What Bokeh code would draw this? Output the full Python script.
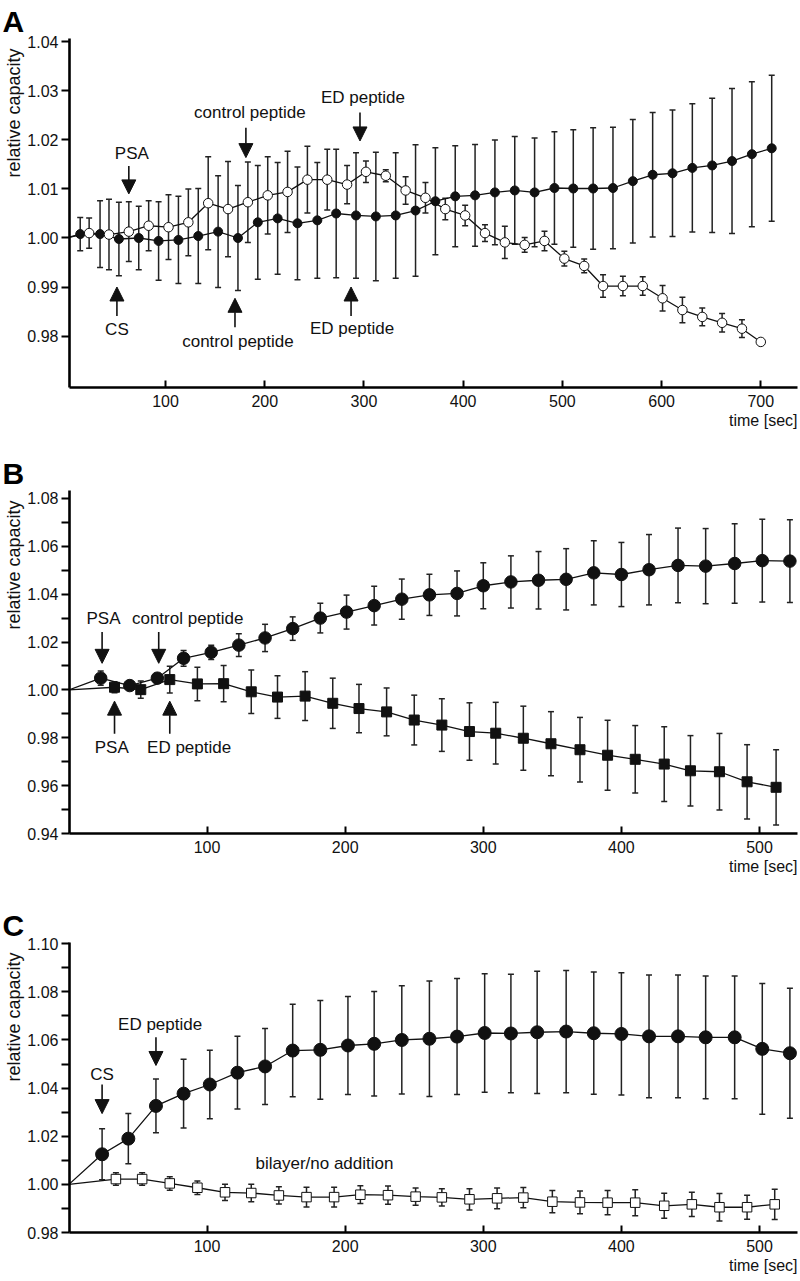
from bokeh.plotting import figure
from bokeh.models import (ColumnDataSource, Whisker, TeeHead, Arrow, NormalHead, Label, Title,
                          Range1d, FixedTicker, PrintfTickFormatter)
from bokeh.layouts import column
from bokeh.embed import file_html
from bokeh.resources import INLINE

FONT = "Liberation Sans"

# ---------------- Panel A ----------------
a_filled_t = [14, 34, 53, 73, 93, 113, 133, 153, 173, 193, 213, 233, 253, 272, 292, 312, 332, 352,
              372, 392, 412, 432, 452, 472, 492, 511, 531, 551, 571, 591, 611, 631, 651, 671, 691, 711]
a_filled_v = [1.0008, 1.0008, 0.9998, 1.0000, 0.9994, 0.9996, 1.0004, 1.0013, 1.0000, 1.0032, 1.0040,
              1.0030, 1.0036, 1.0050, 1.0046, 1.0044, 1.0046, 1.0056, 1.0075, 1.0085, 1.0087, 1.0093,
              1.0097, 1.0093, 1.0102, 1.0101, 1.0101, 1.0102, 1.0116, 1.0129, 1.0132, 1.0143, 1.0148,
              1.0157, 1.0171, 1.0183]
a_filled_e = [0.0034, 0.0068, 0.0075, 0.0065, 0.0080, 0.0089, 0.0097, 0.0114, 0.0107, 0.0116, 0.0114,
              0.0115, 0.0118, 0.0131, 0.0128, 0.0131, 0.0128, 0.0134, 0.0109, 0.0103, 0.0104, 0.0107,
              0.0110, 0.0111, 0.0115, 0.0120, 0.0124, 0.0124, 0.0126, 0.0127, 0.0129, 0.0131, 0.0137,
              0.0148, 0.0148, 0.0149]
a_open_t = [23, 43, 63, 83, 103, 123, 143, 163, 183, 203, 223, 243, 263, 283, 302, 322, 342, 362, 382,
            402, 422, 442, 462, 482, 502, 522, 541, 561, 581, 601, 621, 641, 661, 681, 700]
a_open_v = [1.0010, 1.0007, 1.0013, 1.0025, 1.0022, 1.0032, 1.0071, 1.0059, 1.0073, 1.0087, 1.0094,
            1.0119, 1.0119, 1.0109, 1.0135, 1.0127, 1.0097, 1.0082, 1.0059, 1.0046, 1.0010, 0.9991,
            0.9986, 0.9994, 0.9958, 0.9943, 0.9902, 0.9902, 0.9902, 0.9877, 0.9853, 0.9839, 0.9827,
            0.9815, 0.9788]
a_open_e = [0.0031, 0.0072, 0.0061, 0.0051, 0.0066, 0.0068, 0.0095, 0.0097, 0.0082, 0.0079, 0.0083,
            0.0068, 0.0062, 0.0039, 0.0022, 0.0012, 0.0028, 0.0031, 0.0022, 0.0021, 0.0017, 0.0033,
            0.0015, 0.0020, 0.0015, 0.0014, 0.0023, 0.0020, 0.0019, 0.0026, 0.0026, 0.0018, 0.0019,
            0.0018, 0.0004]
a_xticks = [100, 200, 300, 400, 500, 600, 700]
a_yticks = [0.98, 0.99, 1.00, 1.01, 1.02, 1.03, 1.04]

a_ann_text = ["PSA", "control peptide", "ED peptide", "CS", "control peptide", "ED peptide"]
a_ann_tx = [66, 185, 299, 51, 173, 288]
a_ann_ty = [1.0172, 1.0256, 1.0286, 0.9814, 0.9789, 0.9816]
a_arrow_t = [63, 181, 296, 51, 170, 287]
a_arrow_from = [1.0147, 1.0225, 1.0256, 0.9841, 0.9818, 0.9841]
a_arrow_to = [1.0090, 1.0164, 1.0198, 0.9900, 0.9877, 0.9900]

# ---------------- Panel B ----------------
b_ctrl_t = [23, 44, 64, 83, 103, 123, 142, 162, 182, 201, 221, 241, 261, 281, 300, 320, 340, 360,
            380, 400, 420, 441, 461, 482, 502, 522]
b_ctrl_v = [1.0049, 1.0018, 1.0049, 1.0132, 1.0157, 1.0187, 1.0217, 1.0256, 1.0300, 1.0325, 1.0352,
            1.0379, 1.0397, 1.0403, 1.0435, 1.0451, 1.0458, 1.0462, 1.0489, 1.0482, 1.0502, 1.0520,
            1.0517, 1.0528, 1.0540, 1.0538]
b_ctrl_e = [0.0030, 0.0020, 0.0020, 0.0033, 0.0030, 0.0048, 0.0057, 0.0049, 0.0062, 0.0071, 0.0081,
            0.0084, 0.0086, 0.0094, 0.0096, 0.0109, 0.0120, 0.0128, 0.0134, 0.0134, 0.0147, 0.0156,
            0.0157, 0.0166, 0.0173, 0.0173]
b_ed_t = [33, 52, 73, 93, 112, 132, 151, 171, 191, 210, 230, 250, 270, 290, 309, 329, 349, 370, 390,
          410, 431, 450, 471, 491, 512]
b_ed_v = [1.0011, 1.0001, 1.0043, 1.0025, 1.0026, 0.9992, 0.9970, 0.9974, 0.9944, 0.9922, 0.9908,
          0.9874, 0.9853, 0.9826, 0.9819, 0.9798, 0.9775, 0.9750, 0.9727, 0.9710, 0.9690, 0.9662,
          0.9658, 0.9616, 0.9593]
b_ed_e = [0.0023, 0.0036, 0.0056, 0.0070, 0.0076, 0.0091, 0.0089, 0.0102, 0.0105, 0.0101, 0.0100,
          0.0104, 0.0110, 0.0120, 0.0129, 0.0134, 0.0134, 0.0135, 0.0146, 0.0141, 0.0156, 0.0147,
          0.0160, 0.0155, 0.0157]
b_xticks = [100, 200, 300, 400, 500]
b_yticks = [0.94, 0.96, 0.98, 1.00, 1.02, 1.04, 1.06, 1.08]
b_yminor = [0.95, 0.97, 0.99, 1.01, 1.03, 1.05, 1.07]

b_ann_text = ["PSA", "control peptide", "PSA", "ED peptide"]
b_ann_tx = [25, 86, 31, 87]
b_ann_ty = [1.0297, 1.0297, 0.9761, 0.9761]
b_arrow_t = [24, 65, 33, 73]
b_arrow_from = [1.0242, 1.0242, 0.9817, 0.9817]
b_arrow_to = [1.0111, 1.0111, 0.9953, 0.9953]

# ---------------- Panel C ----------------
c_ed_t = [24, 43, 63, 83, 102, 122, 142, 162, 182, 202, 221, 241, 261, 281, 301, 320, 339, 360, 380,
          400, 420, 441, 461, 482, 502, 522]
c_ed_v = [1.0125, 1.0190, 1.0326, 1.0377, 1.0415, 1.0464, 1.0490, 1.0556, 1.0559, 1.0577, 1.0584,
          1.0600, 1.0605, 1.0614, 1.0629, 1.0627, 1.0632, 1.0635, 1.0628, 1.0625, 1.0615, 1.0615,
          1.0611, 1.0611, 1.0563, 1.0545]
c_ed_e = [0.0106, 0.0104, 0.0112, 0.0143, 0.0142, 0.0151, 0.0158, 0.0192, 0.0205, 0.0204, 0.0217,
          0.0225, 0.0240, 0.0241, 0.0246, 0.0246, 0.0254, 0.0254, 0.0254, 0.0254, 0.0255, 0.0255,
          0.0255, 0.0255, 0.0272, 0.0270]
c_bl_t = [34, 53, 73, 93, 113, 132, 152, 172, 192, 211, 231, 251, 270, 290, 310, 329, 350, 370, 390,
          410, 431, 451, 471, 491, 511]
c_bl_v = [1.0022, 1.0022, 1.0004, 0.9986, 0.9967, 0.9964, 0.9954, 0.9947, 0.9947, 0.9957, 0.9955,
          0.9949, 0.9946, 0.9938, 0.9942, 0.9945, 0.9928, 0.9925, 0.9924, 0.9924, 0.9911, 0.9917,
          0.9905, 0.9905, 0.9917]
c_bl_e = [0.0026, 0.0026, 0.0028, 0.0028, 0.0034, 0.0036, 0.0036, 0.0041, 0.0041, 0.0037, 0.0038,
          0.0036, 0.0036, 0.0044, 0.0043, 0.0042, 0.0046, 0.0047, 0.0050, 0.0054, 0.0052, 0.0050,
          0.0057, 0.0050, 0.0063]
c_xticks = [100, 200, 300, 400, 500]
c_yticks = [0.98, 1.00, 1.02, 1.04, 1.06, 1.08, 1.10]
c_yminor = [0.99, 1.01, 1.03, 1.05, 1.07, 1.09]

c_ann_text = ["CS", "ED peptide", "bilayer/no addition"]
c_ann_tx = [24, 66, 185]
c_ann_ty = [1.0455, 1.0664, 1.0087]
c_arrow_t = [24, 63]
c_arrow_from = [1.0415, 1.0611]
c_arrow_to = [1.0294, 1.0494]

START_T = 0
START_V = 1.0


def make_fig(height, top, bottom, xr, yr, xticks, yticks, yminor):
    p = figure(width=800, height=height, x_range=Range1d(*xr), y_range=Range1d(*yr),
               output_backend="svg", toolbar_location=None, title=None,
               min_border_left=69, min_border_right=3, min_border_top=top,
               min_border_bottom=bottom)
    p.outline_line_color = None
    p.xgrid.visible = False
    p.ygrid.visible = False
    p.background_fill_color = "white"
    p.border_fill_color = "white"
    for ax in (p.xaxis[0], p.yaxis[0]):
        ax.axis_line_width = 2.6
        ax.axis_line_color = "black"
        ax.major_tick_line_width = 2
        ax.major_tick_line_color = "black"
        ax.minor_tick_line_width = 2
        ax.minor_tick_line_color = "black"
        ax.major_label_text_font = FONT
        ax.major_label_text_font_size = "16px"
        ax.major_label_text_color = "#111111"
    xa = p.xaxis[0]
    xa.ticker = FixedTicker(ticks=xticks)
    xa.major_tick_in = 7
    xa.major_tick_out = 0
    xa.minor_tick_in = 0
    xa.minor_tick_out = 0
    xa.major_label_standoff = 7
    ya = p.yaxis[0]
    ya.ticker = FixedTicker(ticks=yticks, minor_ticks=yminor)
    ya.major_tick_in = 0
    ya.major_tick_out = 8
    ya.minor_tick_in = 0
    ya.minor_tick_out = 8
    ya.major_label_standoff = 3
    ya.formatter = PrintfTickFormatter(format="%.2f")
    return p


def add_series(p, t, v, e, marker, size, fill, line_w=1.0):
    src = ColumnDataSource(dict(t=t, v=v, hi=[a + b for a, b in zip(v, e)],
                                lo=[a - b for a, b in zip(v, e)]))
    p.add_layout(Whisker(source=src, base="t", upper="hi", lower="lo",
                         line_color="#222222", line_width=1.5,
                         upper_head=TeeHead(size=6, line_width=1.5, line_color="#222222"),
                         lower_head=TeeHead(size=6, line_width=1.5, line_color="#222222")))
    p.line([START_T] + list(t), [START_V] + list(v), line_color="#111111", line_width=1.3)
    p.scatter(x="t", y="v", source=src, marker=marker, size=size, fill_color=fill,
              line_color="#111111", line_width=line_w)


def add_annotations(p, texts, tx, ty, at, af, ato):
    for s, x, y in zip(texts, tx, ty):
        p.add_layout(Label(x=x, y=y, text=s, text_font=FONT, text_font_size="17px",
                           text_align="center", text_baseline="middle", text_color="#111111"))
    for x, y0, y1 in zip(at, af, ato):
        p.add_layout(Arrow(end=NormalHead(size=14, fill_color="#111111", line_color="#111111",
                                          line_width=1),
                           x_start=x, y_start=y0, x_end=x, y_end=y1,
                           line_color="#111111", line_width=1.6))


def add_frame_texts(p, letter, ylab_offset):
    p.add_layout(Title(text=letter, text_font=FONT, text_font_size="30px",
                       text_font_style="bold", align="left", offset=-67, standoff=2,
                       text_color="black"), "above")
    p.add_layout(Title(text="relative capacity", text_font=FONT, text_font_size="18px",
                       text_font_style="normal", align="right", offset=ylab_offset, standoff=2,
                       text_color="#111111"), "left")
    p.add_layout(Title(text="time [sec]", text_font=FONT, text_font_size="16px",
                       text_font_style="normal", align="right", standoff=0,
                       text_color="#111111"), "below")


# Panel A
pA = make_fig(440, 38, 53, (3.2, 737), (0.9695, 1.0407), a_xticks, a_yticks, [])
add_series(pA, a_filled_t, a_filled_v, a_filled_e, "circle", 9, "#111111")
add_series(pA, a_open_t, a_open_v, a_open_e, "circle", 9.5, "white", 1.0)
add_annotations(pA, a_ann_text, a_ann_tx, a_ann_ty, a_arrow_t, a_arrow_from, a_arrow_to)
add_frame_texts(pA, "A", 10)

# Panel B
pB = make_fig(440, 50, 47, (0.4, 527.5), (0.94, 1.0833), b_xticks, b_yticks, b_yminor)
add_series(pB, b_ctrl_t, b_ctrl_v, b_ctrl_e, "circle", 12.5, "#111111")
add_series(pB, b_ed_t, b_ed_v, b_ed_e, "square", 10, "#111111")
add_annotations(pB, b_ann_text, b_ann_tx, b_ann_ty, b_arrow_t, b_arrow_from, b_arrow_to)
add_frame_texts(pB, "B", 10)

# Panel C
pC = make_fig(401, 62, 49, (0.4, 527.5), (0.98, 1.1005), c_xticks, c_yticks, c_yminor)
add_series(pC, c_ed_t, c_ed_v, c_ed_e, "circle", 13, "#111111")
add_series(pC, c_bl_t, c_bl_v, c_bl_e, "square", 9.5, "white", 1.0)
add_annotations(pC, c_ann_text, c_ann_tx, c_ann_ty, c_arrow_t, c_arrow_from, c_arrow_to)
add_frame_texts(pC, "C", 10)

layout = column(pA, pB, pC, spacing=0)
open("out.html", "w").write(file_html(layout, INLINE))
